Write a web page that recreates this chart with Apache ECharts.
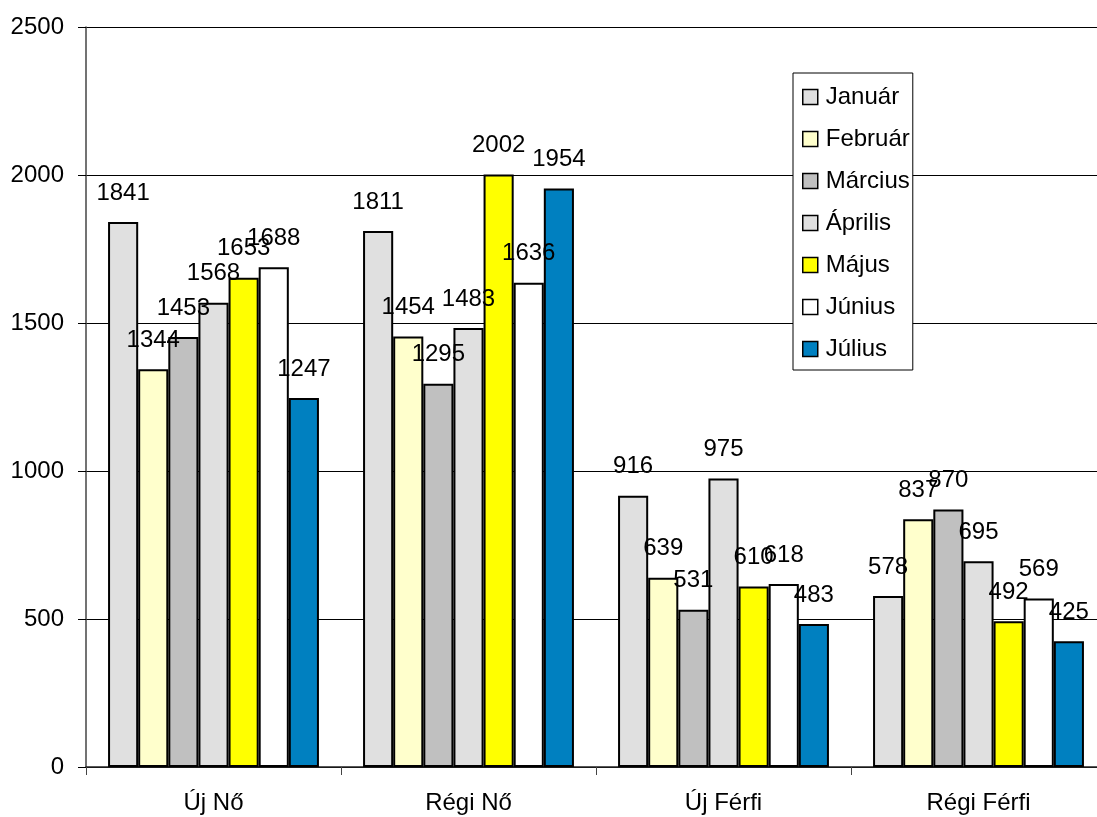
<!DOCTYPE html>
<html>
<head>
<meta charset="utf-8">
<script src="https://cdn.jsdelivr.net/npm/echarts@6/dist/echarts.min.js"></script>
<style>
  html, body { margin: 0; padding: 0; background: #fff; overflow: hidden; }
  #chart { width: 1106px; height: 817px; }
</style>
</head>
<body>
<div id="chart"></div>
<script>
// Groups along the x axis
const categories = ['Új Nő', 'Régi Nő', 'Új Férfi', 'Régi Férfi'];

// Monthly values, one array per month (order follows categories)
const months = ['Január', 'Február', 'Március', 'Április', 'Május', 'Június', 'Július'];
const januar  = [1841, 1811, 916, 578];
const februar = [1344, 1454, 639, 837];
const marcius = [1453, 1295, 531, 870];
const aprilis = [1568, 1483, 975, 695];
const majus   = [1653, 2002, 610, 492];
const junius  = [1688, 1636, 618, 569];
const julius  = [1247, 1954, 483, 425];

const monthValues = [januar, februar, marcius, aprilis, majus, junius, julius];
const monthColors = ['#E0E0E0', '#FFFFCC', '#C0C0C0', '#E0E0E0', '#FFFF00', '#FFFFFF', '#0080C0'];

// Value axis ticks
const yMin = 0, yMax = 2500, yStep = 500;

const FONT = 'Liberation Sans, Arial, sans-serif';
const FS = 24;

const chart = echarts.init(document.getElementById('chart'), null, { renderer: 'canvas' });

const series = months.map((name, i) => ({
  name: name,
  type: 'bar',
  data: monthValues[i],
  barGap: '0%',
  barCategoryGap: '17.3%',
  itemStyle: { color: monthColors[i], borderColor: '#000', borderWidth: 2 },
  label: {
    show: true,
    position: 'top',
    distance: 17,
    color: '#000',
    fontFamily: FONT,
    fontSize: FS
  },
  emphasis: { disabled: true }
}));

chart.setOption({
  animation: false,
  backgroundColor: '#fff',
  textStyle: { fontFamily: FONT },
  grid: { left: 86, top: 27, bottom: 50, right: 0, containLabel: false },
  legend: {
    orient: 'vertical',
    left: 793,
    top: 73,
    padding: [12, 3, 9, 9],
    borderColor: '#000',
    borderWidth: 1,
    backgroundColor: '#fff',
    itemWidth: 15,
    itemHeight: 15,
    itemGap: 18,
    icon: 'rect',
    selectedMode: false,
    itemStyle: { borderColor: '#000', borderWidth: 1.5 },
    textStyle: { color: '#000', fontFamily: FONT, fontSize: FS, padding: [0, 0, 0, 3] },
    data: months
  },
  xAxis: {
    type: 'category',
    data: categories,
    axisLine: { lineStyle: { color: '#222', width: 1.5 } },
    axisTick: { show: true, length: 8, lineStyle: { color: '#444' } },
    axisLabel: { color: '#000', fontFamily: FONT, fontSize: FS, margin: 24 },
    splitLine: { show: false }
  },
  yAxis: {
    type: 'value',
    min: yMin,
    max: yMax,
    interval: yStep,
    axisLine: { show: true, lineStyle: { color: '#444', width: 1.5 } },
    axisTick: { show: true, length: 8, lineStyle: { color: '#000' } },
    axisLabel: {
      color: '#000', fontFamily: FONT, fontSize: FS, margin: 22,
      formatter: (v) => String(v)
    },
    splitLine: { show: true, lineStyle: { color: '#000', width: 1 } }
  },
  series: series
});
</script>
</body>
</html>
